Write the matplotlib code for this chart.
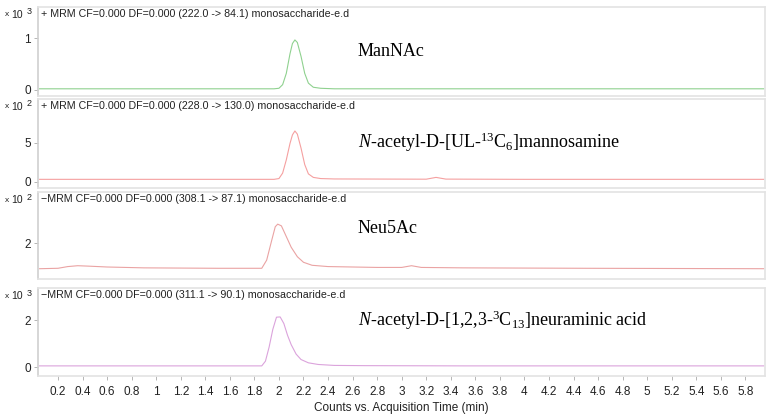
import matplotlib.pyplot as plt

plt.rcParams['font.family'] = 'Liberation Sans'
plt.rcParams['mathtext.fontset'] = 'custom'
plt.rcParams['mathtext.rm'] = 'Liberation Serif'
plt.rcParams['mathtext.it'] = 'Liberation Serif:italic'

# chromatogram traces (time in min, counts in units of the panel multiplier)
t1 = [0.05, 1.0, 1.96, 2.00, 2.03, 2.06, 2.09, 2.11, 2.13, 2.15, 2.18, 2.21, 2.24, 2.28, 2.34, 2.45, 3.0, 4.0, 5.95]
y1 = [0.02, 0.02, 0.02, 0.03, 0.10, 0.32, 0.70, 0.90, 0.97, 0.92, 0.65, 0.32, 0.13, 0.05, 0.03, 0.02, 0.02, 0.02, 0.02]

t2 = [0.05, 1.0, 1.96, 2.00, 2.03, 2.06, 2.09, 2.11, 2.13, 2.15, 2.18, 2.21, 2.24, 2.28, 2.34, 2.45,
      3.2, 3.28, 3.36, 4.0, 5.95]
y2 = [0.30, 0.30, 0.30, 0.40, 1.1, 2.8, 4.9, 6.0, 6.5, 6.1, 4.3, 2.2, 1.0, 0.55, 0.40, 0.35,
      0.32, 0.55, 0.33, 0.30, 0.30]

t3 = [0.05, 0.2, 0.28, 0.36, 0.45, 0.6, 0.9, 1.5, 1.86, 1.90, 1.94, 1.97, 1.99, 2.02, 2.06, 2.10,
      2.15, 2.20, 2.27, 2.4, 2.8, 3.0, 3.08, 3.16, 3.5, 4.5, 5.95]
y3 = [1.40, 1.41, 1.45, 1.47, 1.46, 1.44, 1.42, 1.41, 1.41, 1.6, 2.05, 2.38, 2.44, 2.40, 2.15, 1.90,
      1.68, 1.55, 1.48, 1.45, 1.43, 1.43, 1.47, 1.43, 1.42, 1.41, 1.40]

t4 = [0.05, 1.0, 1.86, 1.89, 1.92, 1.95, 1.98, 2.01, 2.04, 2.07, 2.10, 2.14, 2.18, 2.24, 2.32, 2.45, 2.7, 3.5, 5.95]
y4 = [0.05, 0.05, 0.05, 0.25, 0.85, 1.6, 2.12, 2.13, 1.85, 1.35, 0.95, 0.55, 0.32, 0.18, 0.11, 0.07, 0.06, 0.05, 0.05]

headers = ['+ MRM CF=0.000 DF=0.000 (222.0 -> 84.1) monosaccharide-e.d',
           '+ MRM CF=0.000 DF=0.000 (228.0 -> 130.0) monosaccharide-e.d',
           '\u2212MRM CF=0.000 DF=0.000 (308.1 -> 87.1) monosaccharide-e.d',
           '\u2212MRM CF=0.000 DF=0.000 (311.1 -> 90.1) monosaccharide-e.d']
exponents = ['3', '2', '2', '3']
compounds = ['ManNAc',
             r'$\mathit{N}$-acetyl-D-[UL-$^{13}$C$_6$]mannosamine',
             'Neu5Ac',
             r'$\mathit{N}$-acetyl-D-[1,2,3-$^{3}$C$_{13}$]neuraminic acid']
yticks = [[0, 1], [0, 5], [2], [0, 2]]
ylims = [(-0.12, 1.61), (-0.81, 10.6), (1.16, 3.19), (-0.38, 3.36)]
colors = ['#8fd18f', '#f5a0a0', '#eaa3a3', '#dba3dc']
series = [(t1, y1), (t2, y2), (t3, y3), (t4, y4)]

xticks = [round(0.2 * i, 1) for i in range(1, 30)]
xlabels = [str(int(v)) if v == int(v) else str(v) for v in xticks]

W, H = 775, 415
fig = plt.figure(figsize=(7.75, 4.15), dpi=100)

# panel boxes in pixels: top, bottom
boxes = [(7, 96), (99, 188), (192, 279), (288, 376)]
label_y = [52, 142, 228, 320]

for i, (top, bot) in enumerate(boxes):
    ax = fig.add_axes([38 / W, 1 - bot / H, 727 / W, (bot - top) / H])
    t, y = series[i]
    ax.plot(t, y, color=colors[i], lw=0.8)
    ax.set_xlim(0.037, 5.96)
    ax.set_ylim(*ylims[i])
    ax.set_yticks(yticks[i])
    ax.tick_params(axis='y', length=3, width=0.6, color='#aaaaaa', labelsize=8.5,
                   labelcolor='#222222', pad=2)
    for s in ax.spines.values():
        s.set_color('#e3e3e3')
        s.set_linewidth(1.2)
    ax.spines['left'].set_color('#d0d0d0')
    if i < 3:
        ax.set_xticks([])
    else:
        ax.set_xticks(xticks)
        ax.set_xticklabels(xlabels)
        ax.tick_params(axis='x', length=3, width=0.6, color='#aaaaaa', labelsize=8.5,
                       labelcolor='#222222', pad=4)
        ax.set_xlabel('Counts vs. Acquisition Time (min)', fontsize=8.5, color='#222222',
                      labelpad=3)
    # header line
    fig.text(41 / W, 1 - (top + 7) / H, headers[i], fontsize=7.7, color='#222222', va='center')
    fig.text(5 / W, 1 - (top + 8) / H, 'x', fontsize=6, color='#222222', va='center')
    fig.text(11 / W, 1 - (top + 8) / H, '10', fontsize=7.5, color='#222222', va='center')
    fig.text(27 / W, 1 - (top + 5) / H, exponents[i], fontsize=6.5, color='#222222', va='center')
    # compound name
    fig.text(358 / W, 1 - label_y[i] / H, compounds[i], family='Liberation Serif',
             fontsize=13, color='black', va='center')

fig.savefig('out.png', dpi=100)
